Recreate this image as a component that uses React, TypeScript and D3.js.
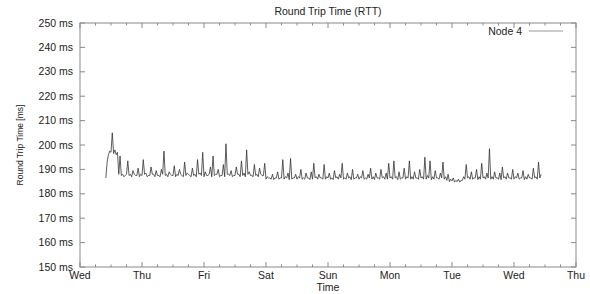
import * as d3 from 'd3';
import React from 'react';

// day labels under the major ticks (one per 24 h)
const dayLabels = ['Wed', 'Thu', 'Fri', 'Sat', 'Sun', 'Mon', 'Tue', 'Wed', 'Thu'];
const yTicks = [150, 160, 170, 180, 190, 200, 210, 220, 230, 240, 250];

// first sample hour (counted from the first Wed 00:00); one low + one high reading per hour
const startHour = 10;
const rttHigh = [
  193, 197.5, 205, 198, 197, 195.5,
  188, 187.5, 193.5, 188, 189.5, 187.5, 190.5, 188, 194, 188.5, 187.5, 191,
  188, 189.5, 187.5, 190, 197.5, 188, 189, 187.5, 191.5, 188, 190, 187.5,
  193, 188.5, 187.5, 190.5, 188, 194, 188.5, 197, 189, 187.5, 191, 195.5,
  188, 190, 187.5, 192, 200.5, 188, 189.5, 187.5, 191, 188, 193.5, 188.5,
  198, 189, 187.5, 192, 188, 190.5, 187.5, 192.5, 187, 186.5, 188, 186.5,
  189, 186.5, 194, 187, 188.5, 194.5, 186.5, 188, 187, 190, 186.5, 188.5,
  186.5, 189, 192.5, 187, 188, 186.5, 192, 187, 188.5, 186.5, 189.5, 187,
  188, 192.5, 186.5, 188.5, 187, 190, 186.5, 188, 187, 189.5, 186.5, 188,
  190.5, 187, 188.5, 186.5, 190, 187, 188.5, 192.5, 187, 193.5, 187, 189,
  186.5, 190.5, 187, 193.5, 187, 189, 186.5, 190, 187, 195, 187.5, 193.5,
  187, 189.5, 186.5, 188.5, 193, 187, 188, 186, 186.5, 185.5, 186, 185.5,
  187, 192, 187, 189, 186.5, 190, 187, 192.5, 187, 188.5, 198.5, 187,
  189, 186.5, 188.5, 191, 187, 188.5, 186.5, 190, 187, 188.5, 186.5, 189.5,
  187, 188, 186.5, 190.5, 187, 193, 188,
];
const rttLow = [
  186.5, 196, 197, 196.5, 196, 188,
  187.5, 187, 188, 187.5, 187, 188, 187.5, 187, 187.5, 188, 187, 187.5,
  188, 187, 187.5, 187, 188, 187.5, 187, 188, 187.5, 187, 187.5, 188,
  187, 187.5, 188, 187, 187.5, 187, 188, 187.5, 187, 187.5, 188, 187,
  187.5, 188, 187, 187.5, 187, 188, 187.5, 187, 187.5, 188, 187, 187.5,
  187, 188, 187.5, 187, 187.5, 187, 188, 187.5,
  186, 186.5, 186, 185.8, 186.5, 186, 186.5, 186, 186.5, 185.8, 186, 186.5,
  186, 186.5, 186, 186, 186.5, 185.8, 186, 186.5, 186, 186.5, 186, 186,
  186.5, 186, 185.8, 186.5, 186, 186.5, 186, 186, 186.5, 185.8, 186, 186.5,
  186, 186.5, 186, 186, 186.5, 186, 185.8, 186.5, 186, 186.5, 186, 186,
  186.5, 186, 186.5, 185.8, 186, 186.5, 186, 186.5, 186, 186, 186.5, 186,
  186.5, 186, 186, 186.5, 185.8, 186, 186.5, 186, 186.5, 186, 185.5,
  185, 185.3, 184.8, 185, 184.8, 185.5,
  186, 186.5, 186, 186, 186.5, 185.8, 186, 186.5, 186, 186.5, 186, 186,
  186.5, 186, 185.8, 186.5, 186, 186.5, 186, 186, 186.5, 186, 186.5, 185.8,
  186, 186.5, 186, 186.5, 186, 186.5,
];

const width = 590;
const height = 294;
const marginLeft = 80;
const marginRight = 14;
const marginTop = 23;
const marginBottom = 27;
const font = '"Liberation Sans", Arial, sans-serif';

export default function App() {
  const x = d3.scaleLinear([0, 24 * (dayLabels.length - 1)], [marginLeft, width - marginRight]);
  const y = d3.scaleLinear([150, 250], [height - marginBottom, marginTop]);

  // low reading at the start of each hour, high reading half an hour later
  const points: [number, number][] = rttHigh.flatMap((hi, i) => [
    [startHour + i, rttLow[i]],
    [startHour + i + 0.5, hi],
  ]);
  const line = d3.line<[number, number]>((d) => x(d[0]), (d) => y(d[1]));

  const majorTicks = dayLabels.map((_, i) => i * 24);
  const minorTicks = d3.range(0, 24 * (dayLabels.length - 1), 6).filter((h) => h % 24 !== 0);

  const x0 = marginLeft;
  const x1 = width - marginRight;
  const y0 = height - marginBottom;
  const y1 = marginTop;
  const axisColor = '#8a8a8a';

  return (
    <svg width={width} height={height} style={{ position: 'absolute', left: 0, top: 0, background: '#fff' }}>
      <text x={(x0 + x1) / 2} y={15} textAnchor="middle" fontFamily={font} fontSize={10.5} fill="#222">
        Round Trip Time (RTT)
      </text>

      {/* frame with ticks mirrored on all four sides */}
      <rect x={x0} y={y1} width={x1 - x0} height={y0 - y1} fill="none" stroke={axisColor} strokeWidth={1} />
      <g stroke={axisColor} strokeWidth={1}>
        {yTicks.map((t) => (
          <g key={'y' + t}>
            <line x1={x0} x2={x0 + 5} y1={y(t)} y2={y(t)} />
            <line x1={x1} x2={x1 - 5} y1={y(t)} y2={y(t)} />
          </g>
        ))}
        {majorTicks.map((t) => (
          <g key={'xm' + t}>
            <line x1={x(t)} x2={x(t)} y1={y0} y2={y0 - 5} />
            <line x1={x(t)} x2={x(t)} y1={y1} y2={y1 + 5} />
          </g>
        ))}
        {minorTicks.map((t) => (
          <g key={'xn' + t}>
            <line x1={x(t)} x2={x(t)} y1={y0} y2={y0 - 2.5} />
            <line x1={x(t)} x2={x(t)} y1={y1} y2={y1 + 2.5} />
          </g>
        ))}
      </g>

      <g fontFamily={font} fontSize={10.5} fill="#222">
        {yTicks.map((t) => (
          <text key={'yl' + t} x={x0 - 7} y={y(t)} dy="0.35em" textAnchor="end">
            {t} ms
          </text>
        ))}
        {dayLabels.map((d, i) => (
          <text key={'xl' + i} x={x(majorTicks[i])} y={279} textAnchor="middle">
            {d}
          </text>
        ))}
        <text x={(x0 + x1) / 2} y={291} textAnchor="middle">
          Time
        </text>
      </g>

      <text
        transform={`translate(23,${(y0 + y1) / 2}) rotate(-90)`}
        textAnchor="middle"
        fontFamily={font}
        fontSize={8.5}
        fill="#222"
      >
        Round Trip Time [ms]
      </text>

      {/* legend */}
      <text x={522} y={31} dy="0.35em" textAnchor="end" fontFamily={font} fontSize={10.5} fill="#222">
        Node 4
      </text>
      <line x1={529} x2={563} y1={31} y2={31} stroke="#999" strokeWidth={1} />

      <path d={line(points) ?? ''} fill="none" stroke="#333" strokeWidth={0.8} />
    </svg>
  );
}
